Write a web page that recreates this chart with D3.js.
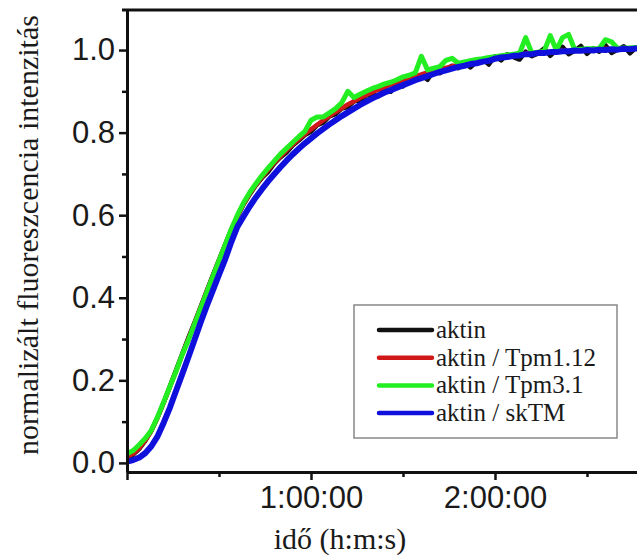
<!DOCTYPE html>
<html>
<head>
<meta charset="utf-8">
<script src="https://cdn.jsdelivr.net/npm/d3@7"></script>
<style>
  body { margin: 0; background: #fff; }
  svg { display: block; }
  .tick text { font-family: "Liberation Sans", Arial, sans-serif; fill: #1a1a1a; }
</style>
</head>
<body>
<svg id="chart"></svg>
<script>
const width = 637;
const height = 560;

// time in minutes, sampled every 2 min
const times = d3.range(0, 171, 2);

const aktin = [0.012,0.020,0.034,0.054,0.079,0.111,0.147,0.186,0.225,0.264,0.303,0.340,0.378,0.417,0.455,0.492,0.529,0.565,0.596,0.626,
  0.650,0.672,0.690,0.705,0.725,0.740,0.752,0.769,0.781,0.794,0.802,0.818,0.824,0.839,0.845,0.858,0.862,0.876,0.878,0.890,
  0.893,0.888,0.905,0.899,0.918,0.912,0.925,0.929,0.940,0.928,0.950,0.944,0.952,0.962,0.956,0.970,0.958,0.972,0.978,0.965,
  0.985,0.975,0.990,0.983,0.977,0.996,0.985,0.992,1.004,0.986,1.000,1.008,0.990,0.998,1.010,0.991,1.004,0.996,1.012,0.993,
  1.001,1.009,0.992,1.006,0.999,1.011];

const tpm112 = [0.015,0.022,0.036,0.055,0.078,0.110,0.146,0.184,0.222,0.262,0.300,0.338,0.376,0.415,0.453,0.491,0.528,0.564,0.598,0.627,
  0.652,0.673,0.692,0.710,0.727,0.742,0.757,0.771,0.784,0.796,0.808,0.819,0.830,0.840,0.850,0.859,0.868,0.876,0.884,0.891,
  0.898,0.904,0.910,0.916,0.921,0.927,0.932,0.937,0.941,0.946,0.950,0.954,0.957,0.961,0.964,0.968,0.971,0.973,0.976,0.978,
  0.981,0.983,0.985,0.987,0.989,0.992,0.991,0.994,0.996,0.995,0.998,0.999,0.997,1.000,1.001,0.999,1.002,1.001,1.003,1.002,
  1.004,1.003,1.005,1.004,1.006,1.005];

const tpm31 = [0.022,0.030,0.044,0.060,0.080,0.112,0.148,0.185,0.222,0.262,0.297,0.336,0.374,0.413,0.452,0.490,0.528,0.566,0.600,0.630,
  0.655,0.676,0.696,0.714,0.731,0.748,0.762,0.776,0.790,0.803,0.830,0.838,0.838,0.848,0.858,0.872,0.900,0.885,0.893,0.900,
  0.907,0.912,0.918,0.922,0.928,0.935,0.939,0.945,0.985,0.952,0.956,0.960,0.975,0.980,0.968,0.971,0.974,0.977,0.979,0.982,
  0.984,0.986,0.988,0.990,0.992,1.030,0.993,0.995,0.997,1.035,1.000,1.030,1.038,1.001,1.002,1.003,1.003,1.004,1.025,1.020,
  1.004,1.005,1.005,1.006,1.006,1.007];

const sktm = [0.003,0.007,0.013,0.024,0.041,0.065,0.098,0.134,0.175,0.215,0.256,0.298,0.340,0.380,0.418,0.456,0.493,0.535,0.572,0.597,
  0.621,0.643,0.663,0.682,0.699,0.716,0.732,0.747,0.761,0.774,0.786,0.798,0.809,0.820,0.830,0.840,0.849,0.858,0.867,0.875,
  0.883,0.890,0.897,0.903,0.909,0.915,0.921,0.927,0.932,0.937,0.942,0.947,0.951,0.955,0.959,0.962,0.966,0.968,0.972,0.974,
  0.979,0.982,0.983,0.986,0.987,0.990,0.990,0.993,0.993,0.995,0.995,0.997,0.997,0.999,0.998,1.000,0.999,1.001,1.000,1.002,
  1.001,1.003,1.002,1.004,1.003,1.004];

const seriesNames = ["aktin", "aktin / Tpm1.12", "aktin / Tpm3.1", "aktin / skTM"];
const seriesValues = [aktin, tpm112, tpm31, sktm];
const seriesColors = ["#111111", "#d01818", "#22ee22", "#1010dd"];

const yMajor = [0, 0.2, 0.4, 0.6, 0.8, 1.0];
const yMinor = [0.1, 0.3, 0.5, 0.7, 0.9];
const xMajor = [0, 60, 120];
const xMinor = [30, 90, 150];

const svg = d3.select("#chart").attr("width", width).attr("height", height);

const x = d3.scaleLinear().domain([0, 180]).range([127, 679]);
const y = d3.scaleLinear().domain([-0.022, 1.097]).range([472, 10]);

svg.append("defs").append("clipPath").attr("id", "plot")
  .append("rect").attr("x", 127).attr("y", 10).attr("width", 552).attr("height", 462);

// curves
const line = d3.line()
  .x((d, i) => x(times[i]))
  .y(d => y(d));

const curves = svg.append("g").attr("clip-path", "url(#plot)");
seriesValues.forEach((vals, k) => {
  curves.append("path")
    .datum(vals)
    .attr("d", line)
    .attr("fill", "none")
    .attr("stroke", seriesColors[k])
    .attr("stroke-width", k === 3 ? 6 : (k === 2 ? 5 : 4.5))
    .attr("stroke-linejoin", "round")
    .attr("stroke-linecap", "round");
});

// axes
function styleAxis(g, w) {
  g.select(".domain").attr("stroke", "#111").attr("stroke-width", w);
  g.selectAll(".tick line").attr("stroke", "#111").attr("stroke-width", 2.5);
}

svg.append("g")
  .attr("transform", "translate(127,0)")
  .call(d3.axisLeft(y).tickValues(yMinor).tickSize(5).tickFormat(""))
  .call(g => g.select(".domain").remove())
  .call(g => g.selectAll(".tick line").attr("stroke", "#111").attr("stroke-width", 2.5));

svg.append("g")
  .attr("transform", "translate(127,0)")
  .call(d3.axisLeft(y).tickValues(yMajor).tickSize(8).tickSizeOuter(0).tickPadding(4).tickFormat(d3.format(".1f")))
  .call(g => styleAxis(g, 3))
  .call(g => g.selectAll(".tick text").attr("font-size", 31));

svg.append("g")
  .attr("transform", "translate(0,472)")
  .call(d3.axisBottom(x).tickValues(xMinor).tickSize(5).tickFormat(""))
  .call(g => g.select(".domain").remove())
  .call(g => g.selectAll(".tick line").attr("stroke", "#111").attr("stroke-width", 2.5));

svg.append("g")
  .attr("transform", "translate(0,472)")
  .call(d3.axisBottom(x).tickValues(xMajor).tickSize(8).tickSizeOuter(0).tickPadding(6)
    .tickFormat(m => m === 0 ? "" : `${m / 60}:00:00`))
  .call(g => styleAxis(g, 3))
  .call(g => g.selectAll(".tick text").attr("font-size", 31));

// top frame line
svg.append("line")
  .attr("x1", 122).attr("x2", width).attr("y1", 10).attr("y2", 10)
  .attr("stroke", "#111").attr("stroke-width", 3);

// axis titles
svg.append("text")
  .attr("transform", "translate(38,235) rotate(-90)")
  .attr("text-anchor", "middle")
  .attr("font-family", "'Liberation Serif', 'Times New Roman', serif")
  .attr("font-size", 30)
  .attr("fill", "#1a1a1a")
  .text("normalizált fluoreszcencia intenzitás");

svg.append("text")
  .attr("x", 340).attr("y", 549)
  .attr("text-anchor", "middle")
  .attr("font-family", "'Liberation Serif', 'Times New Roman', serif")
  .attr("font-size", 30)
  .attr("fill", "#1a1a1a")
  .text("idő (h:m:s)");

// legend
const legend = svg.append("g");
legend.append("rect")
  .attr("x", 354).attr("y", 305).attr("width", 263).attr("height", 133)
  .attr("fill", "#fff").attr("stroke", "#888").attr("stroke-width", 1.5);

seriesNames.forEach((name, k) => {
  const cy = 330 + k * 27.7;
  legend.append("line")
    .attr("x1", 379).attr("x2", 432).attr("y1", cy).attr("y2", cy)
    .attr("stroke", seriesColors[k]).attr("stroke-width", 4.5).attr("stroke-linecap", "round");
  legend.append("text")
    .attr("x", 436).attr("y", cy + 8)
    .attr("font-family", "'Liberation Serif', 'Times New Roman', serif")
    .attr("font-size", 25)
    .attr("fill", "#1a1a1a")
    .text(name);
});
</script>
</body>
</html>
